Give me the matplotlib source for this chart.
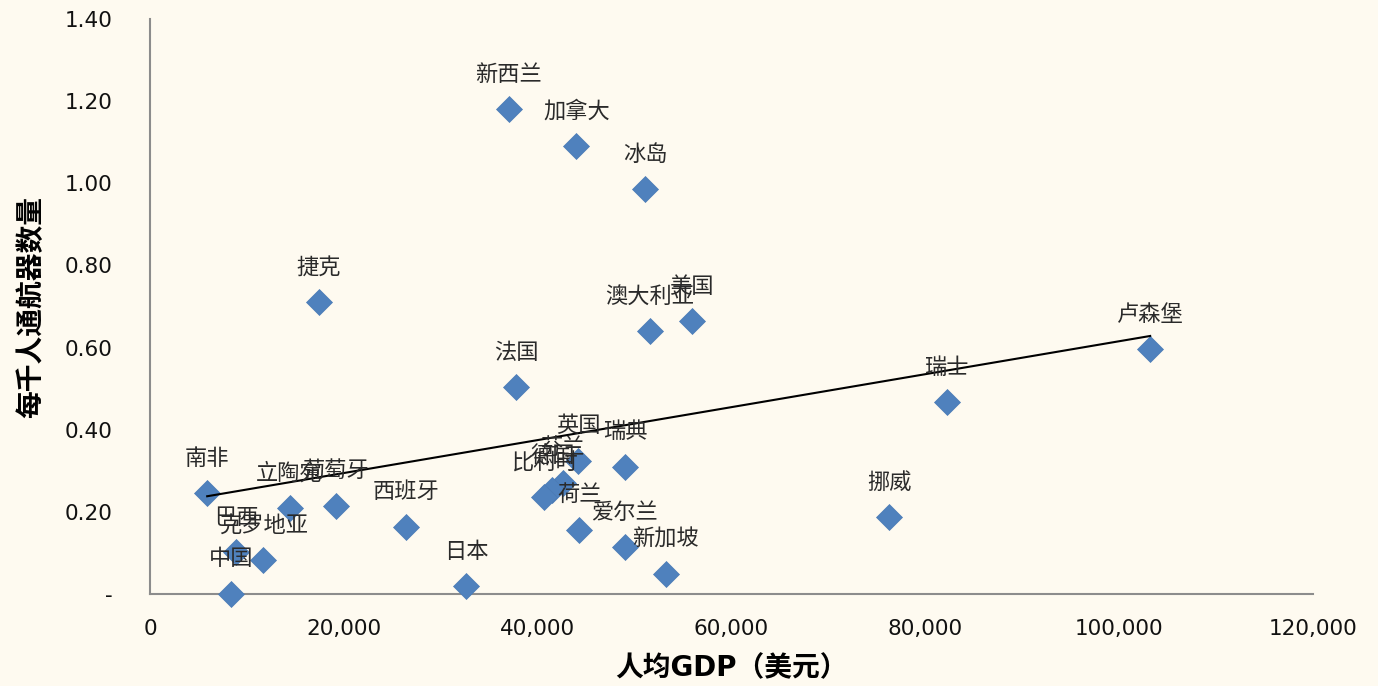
import matplotlib.pyplot as plt
import numpy as np
from matplotlib.ticker import FuncFormatter

plt.rcParams['font.family'] = ['DejaVu Sans', 'Noto Sans CJK SC']
cjk = ['Noto Sans CJK SC', 'DejaVu Sans']

countries = ['新西兰', '加拿大', '冰岛', '捷克', '澳大利亚', '美国', '卢森堡', '法国',
             '瑞士', '英国', '瑞典', '芬兰', '德国', '比利时', '荷兰', '爱尔兰',
             '新加坡', '挪威', '日本', '南非', '立陶宛', '葡萄牙', '西班牙', '巴西',
             '克罗地亚', '中国']
gdp = [37000, 44000, 51100, 17400, 51600, 55900, 103200, 37800,
       82200, 44200, 49000, 42600, 41500, 40700, 44300, 49000,
       53200, 76300, 32600, 5900, 14400, 19200, 26400, 8900,
       11700, 8400]
aircraft = [1.18, 1.09, 0.985, 0.71, 0.64, 0.665, 0.597, 0.503,
            0.467, 0.325, 0.31, 0.27, 0.253, 0.235, 0.157, 0.115,
            0.048, 0.188, 0.02, 0.246, 0.21, 0.215, 0.164, 0.102,
            0.082, 0.001]

gdp_arr = np.array(gdp, dtype=float)
air_arr = np.array(aircraft)

fig = plt.figure(figsize=(13.78, 6.86), dpi=100)
bg = '#fefaf0'
fig.patch.set_facecolor(bg)
ax = fig.add_axes([150 / 1378, 1 - 594 / 686, (1313 - 150) / 1378, (594 - 19) / 686])
ax.set_facecolor(bg)

ax.plot(gdp_arr, air_arr, linestyle='none', marker='D', ms=13,
        color='#4f81bd', mec='#4a7ab5', mew=0.5, zorder=3, clip_on=False)

# linear trend line over the data range
k, b = np.polyfit(gdp_arr, air_arr, 1)
xs = np.array([gdp_arr.min(), gdp_arr.max()])
ax.plot(xs, k * xs + b, color='black', lw=1.5, zorder=4)

for name, x, y in zip(countries, gdp, aircraft):
    ax.annotate(name, (x, y), xytext=(0, 25), textcoords='offset points',
                ha='center', va='center', fontsize=16, family=cjk,
                fontweight='light', color='#2a2a2a', zorder=5)

ax.set_xlim(0, 120000)
ax.set_ylim(0, 1.4)
ax.set_xticks(np.arange(0, 120001, 20000))
ax.set_yticks(np.arange(0, 1.41, 0.2))
ax.xaxis.set_major_formatter(FuncFormatter(lambda v, p: f'{v:,.0f}'))
ax.yaxis.set_major_formatter(FuncFormatter(lambda v, p: '-' if abs(v) < 1e-9 else f'{v:.2f}'))
ax.tick_params(length=0, labelsize=15.5, colors='#111111')
ax.tick_params(axis='y', pad=27)
ax.tick_params(axis='x', pad=18)

for side in ['top', 'right']:
    ax.spines[side].set_visible(False)
for side in ['left', 'bottom']:
    ax.spines[side].set_color('#8c8c8c')
    ax.spines[side].set_linewidth(1.5)

ax.set_xlabel('人均GDP（美元）', fontsize=20, fontweight='bold', labelpad=11)
ax.set_ylabel('每千人通航器数量', fontsize=20, family=cjk, fontweight='bold', labelpad=14)

fig.savefig('out.png', dpi=100, facecolor=bg)
